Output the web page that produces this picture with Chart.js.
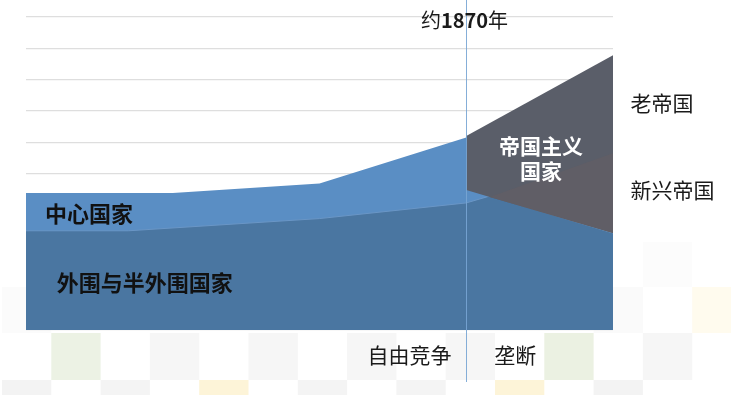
<!DOCTYPE html>
<html>
<head>
<meta charset="utf-8">
<script src="https://cdn.jsdelivr.net/npm/chart.js@4.4.1/dist/chart.umd.min.js"></script>
<style>
  html, body { margin: 0; padding: 0; background: #fff; }
  #wrap { position: relative; width: 731px; height: 395px; }
</style>
</head>
<body>
<div id="wrap"><canvas id="chart" width="731" height="395"></canvas></div>
<script>
/* ---------------- DATA ---------------- */

// x = period position (0..4), 1870 sits at 3
const splitX = 3;

const coreX = [0, 1, 2, 3, 3.16];
const coreTop = [4.38, 4.38, 4.68, 6.15, 4.28];          // 中心国家 upper edge

const periX = [0, 0.7, 2, 3, 3.16, 4];
const periTop = [3.17, 3.17, 3.56, 4.06, 4.28, 3.1];      // 外围与半外围国家 upper edge

const oldX = [3, 4];
const oldTop = [6.2, 8.78];                              // 老帝国 upper edge

const wedgeX = [3, 3.16, 4];
const newTop = [4.47, 4.25, 5.65];                       // 新兴帝国 upper edge
const wedgeBottom = [4.47, 4.25, 3.1];                   // lower edge of 帝国主义国家

const yTicks = [0, 10, 1];  // min, max, step

/* ---------------- HELPERS ---------------- */

function pts(xs, ys) {
  return xs.map((x, i) => ({ x: x, y: ys[i] }));
}

const SANS = '"Noto Sans CJK SC", "Noto Sans", sans-serif';

// labels placed in data units
const notes = [
  { text: "中心国家", x: 0.13, y: 3.73, font: "bold 22px " + SANS, color: "#111", align: "left" },
  { text: "外围与半外围国家", x: 0.21, y: 1.5, font: "bold 22px " + SANS, color: "#111", align: "left" },
  { text: "帝国主义", x: 3.51, y: 5.88, font: "bold 21px " + SANS, color: "#fff", align: "center" },
  { text: "国家", x: 3.51, y: 5.08, font: "bold 21px " + SANS, color: "#fff", align: "center" },
  { text: "老帝国", x: 4.12, y: 7.25, font: "21px " + SANS, color: "#1a1a1a", align: "left" },
  { text: "新兴帝国", x: 4.12, y: 4.47, font: "21px " + SANS, color: "#1a1a1a", align: "left" },
  { text: "自由竞争", x: 2.9, y: -0.8, font: "21px " + SANS, color: "#1a1a1a", align: "right" },
  { text: "垄断", x: 3.19, y: -0.8, font: "21px " + SANS, color: "#1a1a1a", align: "left" }
];

// faded tiles behind the bottom of the slide
const tileRows = [
  { top: 242, h: 45, cols: { 13: "#fcfcfc" } },
  { top: 287, h: 46, cols: { 0: "#fbfbfb", 12: "#fafafa", 14: "#fffbee" } },
  { top: 333, h: 47, cols: { 1: "#ecf2e4", 3: "#f6f6f6", 5: "#f6f6f6", 7: "#f6f6f6", 9: "#f6f6f6", 11: "#ebf1e2", 13: "#f6f6f6" } },
  { top: 380, h: 20, cols: { 0: "#f3f3f3", 2: "#f4f4f4", 4: "#fdf4d8", 6: "#f4f4f4", 8: "#f4f4f4", 10: "#fdf4d8", 12: "#f3f3f3" } }
];

/* ---------------- PLUGINS ---------------- */

const tiles = {
  id: "tiles",
  beforeDraw(chart) {
    const ctx = chart.ctx;
    ctx.save();
    tileRows.forEach(r => {
      Object.keys(r.cols).forEach(k => {
        ctx.fillStyle = r.cols[k];
        ctx.fillRect(2 + k * 49.3, r.top, 49.3, r.h);
      });
    });
    ctx.restore();
  }
};

const marks = {
  id: "marks",
  afterDatasetsDraw(chart) {
    const ctx = chart.ctx;
    const xs = chart.scales.x, ys = chart.scales.y;
    const lx = Math.round(xs.getPixelForValue(splitX)) + 0.5;

    ctx.save();
    ctx.strokeStyle = "rgba(120,165,212,0.9)";
    ctx.lineWidth = 1;
    ctx.beginPath();
    ctx.moveTo(lx, 0);
    ctx.lineTo(lx, chart.chartArea.bottom + 52);
    ctx.stroke();

    ctx.textBaseline = "middle";
    notes.forEach(n => {
      ctx.font = n.font;
      ctx.fillStyle = n.color;
      ctx.textAlign = n.align;
      ctx.fillText(n.text, xs.getPixelForValue(n.x), ys.getPixelForValue(n.y));
    });

    // 约1870年 with bold year
    const parts = [["约", "20px " + SANS], ["1870", "bold 20px " + SANS], ["年", "20px " + SANS]];
    let w = 0;
    parts.forEach(p => { ctx.font = p[1]; w += ctx.measureText(p[0]).width; });
    let tx = lx - 2 - w / 2;
    const ty = ys.getPixelForValue(9.9);
    ctx.textAlign = "left";
    ctx.fillStyle = "#1a1a1a";
    parts.forEach(p => {
      ctx.font = p[1];
      ctx.fillText(p[0], tx, ty);
      tx += ctx.measureText(p[0]).width;
    });
    ctx.restore();
  }
};

/* ---------------- CHART ---------------- */

new Chart(document.getElementById("chart"), {
  type: "line",
  data: {
    datasets: [
      { label: "帝国主义国家", data: pts(wedgeX, wedgeBottom), borderWidth: 0, pointRadius: 0, fill: false, order: 0 },
      { label: "新兴帝国", data: pts(wedgeX, newTop), borderWidth: 0, pointRadius: 0,
        fill: 0, backgroundColor: "#605e66", order: 1 },
      { label: "老帝国", data: pts(oldX, oldTop), borderWidth: 0, pointRadius: 0,
        fill: 0, backgroundColor: "#5a5e69", order: 2 },
      { label: "外围与半外围国家", data: pts(periX, periTop), borderWidth: 1, borderColor: "#6a96c6", pointRadius: 0,
        fill: "origin", backgroundColor: "#4a76a1", order: 3 },
      { label: "中心国家", data: pts(coreX, coreTop), borderWidth: 0, pointRadius: 0,
        fill: "origin", backgroundColor: "#5a8ec4", order: 4 }
    ]
  },
  options: {
    responsive: false,
    animation: false,
    events: [],
    layout: { padding: { left: 26, right: 118, top: 17, bottom: 65 } },
    elements: { line: { tension: 0 } },
    plugins: { legend: { display: false }, tooltip: { enabled: false } },
    scales: {
      x: { type: "linear", min: 0, max: 4, display: false },
      y: {
        min: yTicks[0], max: yTicks[1],
        ticks: { display: false, stepSize: yTicks[2] },
        border: { display: false },
        grid: { color: "#dedede", lineWidth: 1.2, drawTicks: false }
      }
    }
  },
  plugins: [tiles, marks]
});
</script>
</body>
</html>
